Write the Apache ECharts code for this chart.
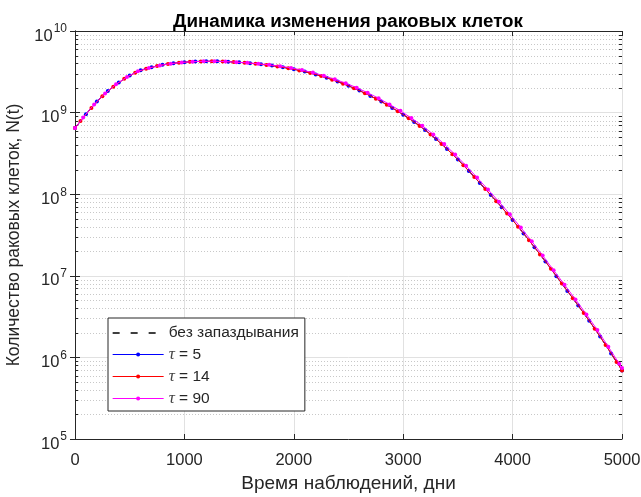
<!DOCTYPE html>
<html>
<head>
<meta charset="utf-8">
<script src="https://cdn.jsdelivr.net/npm/echarts@6/dist/echarts.min.js"></script>
<style>
  html, body { margin: 0; padding: 0; background: #fff; }
  #chart { width: 641px; height: 497px; }
</style>
</head>
<body>
<div id="chart"></div>
<script>
// Observation times (days) and cell counts for each model run
const daysBase = [0,100,200,300,400,500,600,700,800,900,1000,1100,1200,1300,1400,1500,1600,1700,1800,1900,2000,2100,2200,2300,2400,2500,2600,2700,2800,2900,3000,3100,3200,3300,3400,3500,3600,3700,3800,3900,4000,4100,4200,4300,4400,4500,4600,4700,4800,4900,5000];
const cellsNoDelay = [6.46e8,9.55e8,1.37e9,1.84e9,2.34e9,2.85e9,3.31e9,3.59e9,3.85e9,4.03e9,4.15e9,4.23e9,4.26e9,4.26e9,4.21e9,4.13e9,4.03e9,3.91e9,3.77e9,3.60e9,3.40e9,3.18e9,2.94e9,2.67e9,2.40e9,2.13e9,1.86e9,1.60e9,1.37e9,1.14e9,9.44e8,7.69e8,6.14e8,4.75e8,3.59e8,2.66e8,1.93e8,1.37e8,9.77e7,6.92e7,4.84e7,3.31e7,2.24e7,1.50e7,9.89e6,6.53e6,4.32e6,2.82e6,1.80e6,1.12e6,6.92e5];

const daysTau5 = daysBase;
const cellsTau5 = [6.46e8,9.55e8,1.37e9,1.84e9,2.34e9,2.85e9,3.31e9,3.59e9,3.85e9,4.03e9,4.15e9,4.23e9,4.26e9,4.26e9,4.21e9,4.13e9,4.03e9,3.91e9,3.77e9,3.60e9,3.40e9,3.18e9,2.94e9,2.67e9,2.40e9,2.13e9,1.86e9,1.60e9,1.37e9,1.14e9,9.44e8,7.69e8,6.14e8,4.75e8,3.59e8,2.66e8,1.93e8,1.37e8,9.77e7,6.92e7,4.84e7,3.31e7,2.24e7,1.50e7,9.89e6,6.53e6,4.32e6,2.82e6,1.80e6,1.12e6,6.92e5];

const daysTau14 = [0,50,150,250,350,450,550,650,750,850,950,1050,1150,1250,1350,1450,1550,1650,1750,1850,1950,2050,2150,2250,2350,2450,2550,2650,2750,2850,2950,3050,3150,3250,3350,3450,3550,3650,3750,3850,3950,4050,4150,4250,4350,4450,4550,4650,4750,4850,4950,5000];
const cellsTau14 = [6.46e8,7.89e8,1.14e9,1.585e9,2.08e9,2.59e9,3.07e9,3.45e9,3.72e9,3.94e9,4.09e9,4.19e9,4.24e9,4.26e9,4.23e9,4.17e9,4.08e9,3.97e9,3.84e9,3.68e9,3.50e9,3.29e9,3.06e9,2.80e9,2.53e9,2.26e9,1.99e9,1.73e9,1.48e9,1.25e9,1.04e9,8.52e8,6.87e8,5.40e8,4.13e8,3.09e8,2.26e8,1.63e8,1.16e8,8.22e7,5.79e7,4.00e7,2.72e7,1.83e7,1.22e7,8.04e6,5.31e6,3.49e6,2.25e6,1.42e6,8.81e5,6.92e5];

const daysTau90 = [0,75,175,275,375,475,575,675,775,875,975,1075,1175,1275,1375,1475,1575,1675,1775,1875,1975,2075,2175,2275,2375,2475,2575,2675,2775,2875,2975,3075,3175,3275,3375,3475,3575,3675,3775,3875,3975,4075,4175,4275,4375,4475,4575,4675,4775,4875,4975,5000];
const cellsTau90 = [6.46e8,8.71e8,1.26e9,1.72e9,2.22e9,2.73e9,3.21e9,3.52e9,3.78e9,3.98e9,4.12e9,4.21e9,4.25e9,4.26e9,4.22e9,4.15e9,4.07e9,3.97e9,3.85e9,3.71e9,3.53e9,3.32e9,3.09e9,2.83e9,2.56e9,2.29e9,2.02e9,1.75e9,1.50e9,1.26e9,1.05e9,8.57e8,6.90e8,5.40e8,4.11e8,3.06e8,2.23e8,1.60e8,1.14e8,8.09e7,5.68e7,3.90e7,2.65e7,1.77e7,1.17e7,7.76e6,5.13e6,3.36e6,2.16e6,1.35e6,8.37e5,7.41e5];

const seriesNames = ['без запаздывания', 'τ = 5', 'τ = 14', 'τ = 90'];
const xTicks = { min: 0, max: 5000, step: 1000 };
const yRange = { min: 1e5, max: 1e10 };

// minor log gridlines: 2..9 × each decade
const minorValues = [];
for (let e = 5; e < 10; e++) {
  for (let k = 2; k <= 9; k++) minorValues.push([0, k * Math.pow(10, e)]);
}

const pair = (xs, ys) => xs.map((x, i) => [x, ys[i]]);

const TEXT = '#262626';
const FONT = '"Liberation Sans", Arial, sans-serif';

const chart = echarts.init(document.getElementById('chart'), null, { renderer: 'canvas' });

const yLabel = {
  margin: 8,
  fontFamily: FONT,
  formatter: v => '{b|10}{e|' + Math.round(Math.log10(v)) + '}',
  rich: {
    b: { fontSize: 16.5, color: TEXT, fontFamily: FONT, lineHeight: 18, padding: [10, 0, 0, 0] },
    e: { fontSize: 12, color: TEXT, fontFamily: FONT, lineHeight: 18, padding: [0, 0, 4, 1] }
  }
};

const option = {
  animation: false,
  backgroundColor: '#fff',
  title: {
    text: 'Динамика изменения раковых клеток',
    left: 343, top: 7, textAlign: 'center',
    textStyle: { fontFamily: FONT, fontSize: 18.8, fontWeight: 'bold', color: '#000' }
  },
  grid: { left: 75, right: 19, top: 31, bottom: 58, outerBoundsMode: 'none', containLabel: false },
  legend: {
    left: 108, top: 318, orient: 'vertical',
    data: [
      { name: seriesNames[0], itemStyle: { opacity: 0 }, lineStyle: { color: '#000', width: 1.3, opacity: 1 } },
      seriesNames[1], seriesNames[2], seriesNames[3]
    ],
    itemWidth: 51, itemHeight: 5, itemGap: 5,
    padding: [7, 6, 4, 4],
    backgroundColor: '#fff', borderColor: TEXT, borderWidth: 1, borderRadius: 0,
    lineStyle: { width: 1 },
    textStyle: {
      fontFamily: FONT, fontSize: 15.5, color: TEXT, lineHeight: 16,
      rich: {
        t: { fontFamily: '"Liberation Serif", "DejaVu Serif", serif', fontStyle: 'italic', fontSize: 17, color: '#444', lineHeight: 16 },
        r: { fontFamily: FONT, fontSize: 15.5, color: TEXT, lineHeight: 16 }
      }
    },
    formatter: name => name.startsWith('τ') ? '{t|τ}{r|' + name.slice(1) + '}' : name
  },
  xAxis: [{
    type: 'value', min: xTicks.min, max: xTicks.max, interval: xTicks.step,
    name: 'Время наблюдений, дни', nameLocation: 'middle', nameGap: 31,
    nameTextStyle: { fontFamily: FONT, fontSize: 19, color: TEXT },
    axisLine: { show: true, lineStyle: { color: TEXT, width: 1 } },
    axisTick: { show: true, inside: true, length: 5, lineStyle: { color: TEXT } },
    axisLabel: { fontFamily: FONT, fontSize: 16.5, color: TEXT, margin: 13, formatter: v => String(v) },
    splitLine: { show: true, lineStyle: { color: '#e1e1e1', width: 1 } }
  }, {
    type: 'value', position: 'top', min: xTicks.min, max: xTicks.max, interval: xTicks.step,
    axisLine: { show: true, lineStyle: { color: TEXT, width: 1 } },
    axisTick: { show: true, inside: true, length: 5, lineStyle: { color: TEXT } },
    axisLabel: { show: false }, splitLine: { show: false }
  }],
  yAxis: [{
    type: 'log', logBase: 10, min: yRange.min, max: yRange.max, splitNumber: 5,
    name: 'Количество раковых клеток, N(t)', nameLocation: 'middle', nameGap: 47,
    nameTextStyle: { fontFamily: FONT, fontSize: 17.5, color: TEXT },
    axisLine: { show: true, lineStyle: { color: TEXT, width: 1 } },
    axisTick: { show: true, inside: true, length: 5, lineStyle: { color: TEXT } },
    axisLabel: yLabel,
    splitLine: { show: true, lineStyle: { color: '#e1e1e1', width: 1 } }
  }, {
    type: 'log', logBase: 10, position: 'right', min: yRange.min, max: yRange.max, splitNumber: 5,
    axisLine: { show: true, lineStyle: { color: TEXT, width: 1 } },
    axisTick: { show: true, inside: true, length: 5, lineStyle: { color: TEXT } },
    axisLabel: { show: false }, splitLine: { show: false }
  }],
  series: [
    {
      // dotted minor gridlines and inward minor ticks on both log edges
      type: 'custom', name: 'minor', xAxisIndex: 0, yAxisIndex: 0, z: 1, silent: true,
      data: minorValues,
      renderItem: (params, api) => {
        const v = api.value(1);
        const a = api.coord([xTicks.min, v]);
        const b = api.coord([xTicks.max, v]);
        const y = Math.round(a[1]) + 0.5;
        return {
          type: 'group',
          children: [
            { type: 'line', shape: { x1: a[0], y1: y, x2: b[0], y2: y },
              style: { stroke: '#c8c8c8', lineWidth: 1, lineDash: [1, 2] } },
            { type: 'line', shape: { x1: a[0], y1: y, x2: a[0] + 3, y2: y },
              style: { stroke: TEXT, lineWidth: 1 } },
            { type: 'line', shape: { x1: b[0] - 3, y1: y, x2: b[0], y2: y },
              style: { stroke: TEXT, lineWidth: 1 } }
          ]
        };
      }
    },
    {
      name: seriesNames[0], type: 'line', data: pair(daysBase, cellsNoDelay),
      showSymbol: false, symbol: 'circle', symbolSize: 2, z: 3,
      lineStyle: { color: '#000', width: 1, type: [7, 11] }, itemStyle: { color: '#000' }
    },
    {
      name: seriesNames[1], type: 'line', data: pair(daysTau5, cellsTau5),
      symbol: 'circle', symbolSize: 4, z: 4,
      lineStyle: { color: '#0000ff', width: 1 }, itemStyle: { color: '#0000ff' }
    },
    {
      name: seriesNames[2], type: 'line', data: pair(daysTau14, cellsTau14),
      symbol: 'circle', symbolSize: 4, z: 5,
      lineStyle: { color: '#ff0000', width: 1 }, itemStyle: { color: '#ff0000' }
    },
    {
      name: seriesNames[3], type: 'line', data: pair(daysTau90, cellsTau90),
      symbol: 'circle', symbolSize: 4, z: 6,
      lineStyle: { color: '#ff00ff', width: 1 }, itemStyle: { color: '#ff00ff' }
    }
  ]
};

chart.setOption(option);
</script>
</body>
</html>
